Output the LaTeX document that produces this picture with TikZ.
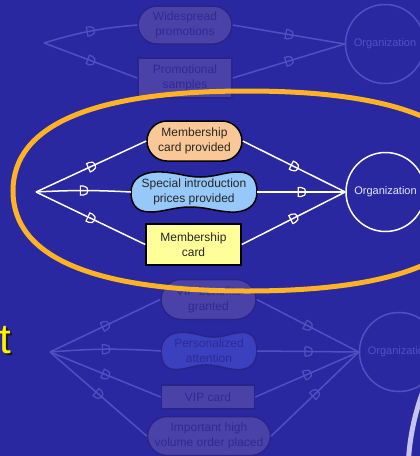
\documentclass[tikz,border=0pt]{standalone}
\usepackage{fontspec}
\setmainfont{Liberation Sans}
\usetikzlibrary{shapes.misc,decorations.markings,positioning}

\definecolor{slidebg}{RGB}{42,40,160}
\definecolor{fadeline}{RGB}{82,80,192}
\definecolor{fadefill}{RGB}{74,66,166}
\definecolor{fadeblob}{RGB}{58,64,190}
\definecolor{fadeedge}{RGB}{40,36,138}
\definecolor{fadetext}{RGB}{46,42,150}
\definecolor{peach}{RGB}{250,200,150}
\definecolor{skyblob}{RGB}{150,200,250}
\definecolor{paleyellow}{RGB}{255,255,153}
\definecolor{ringorange}{RGB}{255,178,36}
\definecolor{ringpale}{RGB}{196,196,236}

\tikzstyle{live}     = [draw=white, line width=1.5pt, postaction={decorate},
  decoration={markings, mark=at position 0.5 with {\draw[white, line width=1.2pt] (-3,-4.5) -- (-3,4.5) -- (0,4.5) .. controls (6,4.5) and (6,-4.5) .. (0,-4.5) -- cycle;}}]
\tikzstyle{fade}     = [draw=fadeline, line width=1.5pt, postaction={decorate},
  decoration={markings, mark=at position 0.5 with {\draw[fadeline, line width=1.2pt] (-3,-4.5) -- (-3,4.5) -- (0,4.5) .. controls (6,4.5) and (6,-4.5) .. (0,-4.5) -- cycle;}}]
\tikzstyle{txt}      = [align=center, font=\fontsize{12}{15}\selectfont, inner sep=0pt]
\tikzstyle{pill}     = [txt, rounded rectangle, draw=black, line width=1.5pt, text=black!85]
\tikzstyle{boxnode}  = [txt, rectangle, draw=black, line width=1.5pt, text=black!85]
\tikzstyle{org}      = [circle, draw=white, line width=1.5pt, minimum size=79pt, inner sep=0pt, text=white!90!blue, font=\fontsize{11}{13}\selectfont]
\tikzstyle{fadenode} = [fill=fadefill, draw=fadeedge, text=fadetext]
\tikzstyle{fadeorg}  = [org, draw=fadeline, text=fadeline]

\begin{document}
\begin{tikzpicture}[x=1pt, y=-1pt]
  \useasboundingbox (0,0) rectangle (420,456);
  \clip (0,0) rectangle (420,456);
  \fill[slidebg] (0,0) rectangle (420,456);

  % faded upper tree
  \coordinate (jtop) at (44,43);
  \node[pill, fadenode, minimum width=94pt, minimum height=38pt] (wsp) at (185,25) {Widespread\\promotions};
  \node[boxnode, fadenode, minimum width=94pt, minimum height=40pt] (psm) at (185,78) {Promotional\\samples};
  \node[fadeorg] (orgtop) at (385,44) {Organization};
  \draw[fade] (jtop) to[bend left=6] (wsp.west);
  \draw[fade] (jtop) -- (psm.west);
  \draw[fade] (wsp.east) -- (orgtop.west);
  \draw[fade] (psm.east) -- (orgtop.west);

  % faded lower tree
  \coordinate (jbot) at (50,352);
  \node[pill, fadenode, minimum width=95pt, minimum height=40pt] (vbg) at (208.5,299.5) {VIP benefits\\granted};
  \draw[fill=fadeblob, draw=fadeedge, line width=1.5pt, shift={(209,351)}, xscale=0.76, yscale=0.93]
    (-63,0) .. controls (-63,-14) and (-50,-21) .. (-32,-20) .. controls (-14,-19) and (-8,-15) .. (6,-15)
    .. controls (22,-15) and (30,-20) .. (44,-20) .. controls (58,-20) and (63,-12) .. (63,0)
    .. controls (63,14) and (52,21) .. (36,20) .. controls (20,19) and (12,15) .. (-4,15)
    .. controls (-20,15) and (-30,20) .. (-44,20) .. controls (-58,20) and (-63,12) .. (-63,0) -- cycle;
  \node[txt, text=fadetext, minimum width=96pt, minimum height=37pt] (pat) at (209,351) {Personalized\\attention};
  \node[boxnode, fadenode, minimum width=93pt, minimum height=24pt] (vipc) at (208,397) {VIP card};
  \node[pill, fadenode, minimum width=123pt, minimum height=39pt] (ihv) at (209,436) {Important high\\volume order placed};
  \node[fadeorg] (orgbot) at (399,352) {Organization};
  \draw[fade] (jbot) -- (vbg.west);
  \draw[fade] (jbot) to[bend left=4] (pat.west);
  \draw[fade] (jbot) -- (vipc.west);
  \draw[fade] (jbot) -- (ihv.west);
  \draw[fade] (vbg.east) -- (orgbot.west);
  \draw[fade] (pat.east) -- (orgbot.west);
  \draw[fade] (vipc.east) -- (orgbot.west);
  \draw[fade] (ihv.east) -- (orgbot.west);

  % title letter and ring
  \node[anchor=base west, inner sep=0pt, text=black!90, font=\fontsize{42}{42}\selectfont] (tshadow) at (1.5,355) {t};
  \node[anchor=base west, inner sep=0pt, text=yellow, font=\fontsize{42}{42}\selectfont] (tletter) at (-0.5,353) {t};
  \draw[ringpale, line width=5pt] (648,475) circle (240);

  % highlight
  \draw[ringorange, line width=5pt] (13,191) .. controls (13,125) and (93,91) .. (247,91)
    .. controls (401,91) and (481,125) .. (481,191) .. controls (481,257) and (401,291) .. (247,291)
    .. controls (93,291) and (13,257) .. (13,191) -- cycle;

  % main tree
  \coordinate (jmain) at (36,192);
  \node[pill, fill=peach, minimum width=95pt, minimum height=40pt] (mcp) at (194.5,141) {Membership\\card provided};
  \draw[fill=skyblob, draw=black, line width=1.5pt, shift={(194,192)}]
    (-63,0) .. controls (-63,-14) and (-50,-21) .. (-32,-20) .. controls (-14,-19) and (-8,-15) .. (6,-15)
    .. controls (22,-15) and (30,-20) .. (44,-20) .. controls (58,-20) and (63,-12) .. (63,0)
    .. controls (63,14) and (52,21) .. (36,20) .. controls (20,19) and (12,15) .. (-4,15)
    .. controls (-20,15) and (-30,20) .. (-44,20) .. controls (-58,20) and (-63,12) .. (-63,0) -- cycle;
  \node[txt, text=black!85, minimum width=126pt, minimum height=39pt] (sip) at (194,192) {Special introduction\\prices provided};
  \node[boxnode, fill=paleyellow, minimum width=95pt, minimum height=41pt] (mcb) at (193.5,244.5) {Membership\\card};
  \node[org] (orgmain) at (385.5,192) {Organization};
  \draw[live] (jmain) -- (mcp.west);
  \draw[live] (jmain) to[bend left=3] (sip.west);
  \draw[live] (jmain) -- (mcb.west);
  \draw[live] (mcp.east) -- (orgmain.west);
  \draw[live] (sip.east) -- (orgmain.west);
  \draw[live] (mcb.east) -- (orgmain.west);
\end{tikzpicture}
\end{document}
